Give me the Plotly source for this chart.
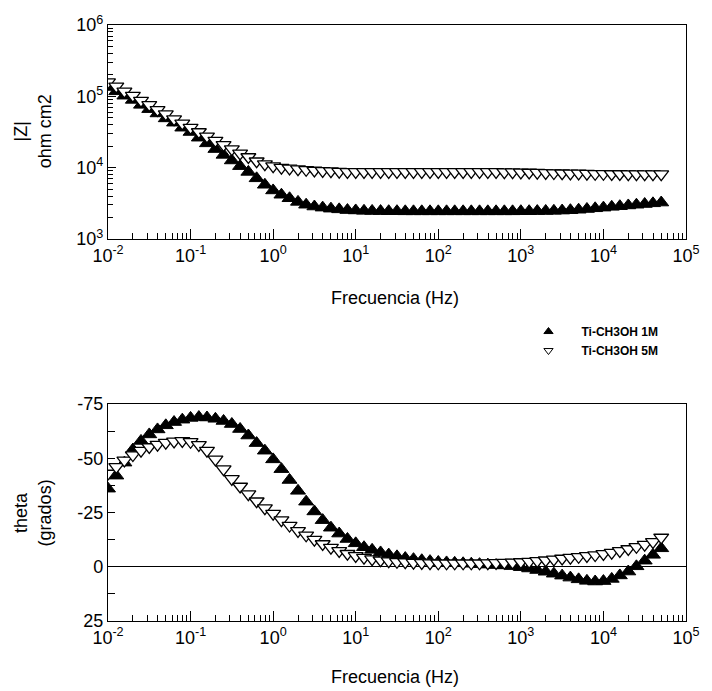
import plotly.graph_objects as go

# Frequencies (Hz)
freq = [0.01, 0.0126, 0.0158, 0.02, 0.0251, 0.0316, 0.0398, 0.0501, 0.0631, 0.0794,
        0.1, 0.126, 0.158, 0.2, 0.251, 0.316, 0.398, 0.501, 0.631, 0.794,
        1, 1.26, 1.58, 2, 2.51, 3.16, 3.98, 5.01, 6.31, 7.94,
        10, 12.6, 15.8, 20, 25.1, 31.6, 39.8, 50.1, 63.1, 79.4,
        100, 126, 158, 200, 251, 316, 398, 501, 631, 794,
        1000, 1260, 1580, 2000, 2510, 3160, 3980, 5010, 6310, 7940,
        10000, 12600, 15800, 20000, 25100, 31600, 39800, 50100]

# |Z| (ohm cm2)
z_1m = [135000, 117500, 102000, 89100, 75900, 66100, 57500, 49000, 42700, 36300,
        31600, 26300, 21900, 18200, 15100, 12600, 10500, 8710, 7080, 5750,
        4790, 4170, 3720, 3310, 3020, 2850, 2750, 2660, 2600, 2540,
        2510, 2480, 2470, 2460, 2450, 2450, 2440, 2440, 2440, 2440,
        2440, 2440, 2440, 2440, 2440, 2440, 2440, 2440, 2440, 2440,
        2450, 2450, 2460, 2470, 2480, 2500, 2530, 2570, 2630, 2690,
        2750, 2820, 2880, 2950, 3020, 3090, 3160, 3240]
z_5m = [158000, 138000, 117500, 102000, 87100, 75900, 64600, 56200, 47900, 41700,
        36300, 31600, 27500, 24000, 20900, 18200, 15800, 14100, 12300, 11200,
        10500, 10000, 9770, 9550, 9330, 9120, 9020, 8910, 8810, 8710,
        8710, 8710, 8700, 8700, 8700, 8700, 8700, 8700, 8700, 8700,
        8700, 8700, 8700, 8700, 8700, 8700, 8700, 8700, 8650, 8650,
        8600, 8550, 8500, 8450, 8400, 8350, 8300, 8300, 8250, 8200,
        8200, 8150, 8150, 8100, 8100, 8100, 8100, 8100]

# theta (grados)
th_1m = [-36, -42, -48, -54, -58, -61, -63.3, -65.2, -66.7, -67.8,
         -68.6, -69, -68.8, -68.2, -67.2, -65.8, -63.5, -60.5, -57, -53.5,
         -49.5, -45, -40, -35, -30, -25.5, -21.5, -18, -15.3, -12.8,
         -10.8, -9.0, -7.8, -6.6, -5.6, -4.8, -4.0, -3.5, -3.0, -2.6,
         -2.2, -2.0, -1.8, -1.6, -1.4, -1.2, -1.0, -0.8, -0.6, -0.3,
         0.2, 0.8, 1.5, 2.3, 3.2, 4.1, 5.0, 5.8, 6.5, 6.8,
         6.6, 5.6, 4.0, 2.2, -0.2, -2.8, -5.5, -8.5]
th_5m = [-43, -46, -49, -51.5, -53.5, -55.2, -56.3, -57.2, -57.8, -58,
         -57.6, -56.2, -53.5, -49.5, -45, -40.5, -37, -33.5, -30.2, -27,
         -24.5, -21.5, -19, -16.5, -14.5, -12.5, -10.5, -8.8, -7.3, -6.0,
         -5.0, -4.2, -3.5, -3.0, -2.6, -2.3, -2.1, -1.9, -1.8, -1.7,
         -1.6, -1.6, -1.6, -1.6, -1.6, -1.6, -1.7, -1.8, -1.9, -2.0,
         -2.2, -2.4, -2.7, -3.0, -3.4, -3.8, -4.2, -4.6, -5.0, -5.4,
         -5.9, -6.5, -7.3, -8.2, -9.2, -10.2, -11.5, -13.5]

names = ["Ti-CH3OH 1M", "Ti-CH3OH 5M"]

x_tickvals = [10.0 ** e for e in range(-2, 6)]
x_ticktext = ["10<sup>%d</sup>" % e for e in range(-2, 6)]
x_minor = [m * 10.0 ** e for e in range(-2, 5) for m in range(2, 10)]
z_tickvals = [10.0 ** e for e in range(3, 7)]
z_ticktext = ["10<sup>%d</sup>" % e for e in range(3, 7)]
z_minor = [m * 10.0 ** e for e in range(3, 6) for m in range(2, 10)]
th_tickvals = [-75, -50, -25, 0, 25]
th_ticktext = ["-75", "-50", "-25", "0", "25"]
th_minor = [-62.5, -37.5, -12.5, 12.5]

FONT = "Liberation Sans, Arial, sans-serif"
MS = 13
filled = dict(symbol="triangle-up", size=MS, color="black", line=dict(color="black", width=1))
opened = dict(symbol="triangle-down", size=MS, color="white", line=dict(color="black", width=1.3))

fig = go.Figure()
fig.add_trace(go.Scatter(x=freq, y=z_1m, mode="markers", marker=filled, name=names[0],
                         xaxis="x", yaxis="y", showlegend=False))
fig.add_trace(go.Scatter(x=freq, y=z_5m, mode="markers", marker=opened, name=names[1],
                         xaxis="x", yaxis="y", showlegend=False))
fig.add_trace(go.Scatter(x=freq, y=th_1m, mode="markers", marker=filled, name=names[0],
                         xaxis="x2", yaxis="y2", showlegend=False))
fig.add_trace(go.Scatter(x=freq, y=th_5m, mode="markers", marker=opened, name=names[1],
                         xaxis="x2", yaxis="y2", showlegend=False))
# legend entries (small symbols as in the reference)
fig.add_trace(go.Scatter(x=[None], y=[None], mode="markers", name=names[0],
                         marker=dict(symbol="triangle-up", size=8, color="black",
                                     line=dict(color="black", width=1)),
                         xaxis="x", yaxis="y"))
fig.add_trace(go.Scatter(x=[None], y=[None], mode="markers", name=names[1],
                         marker=dict(symbol="triangle-down", size=8, color="white",
                                     line=dict(color="black", width=1)),
                         xaxis="x", yaxis="y"))

common_x = dict(type="log", range=[-2, 5], tickvals=x_tickvals, ticktext=x_ticktext,
                ticks="inside", ticklen=10, tickcolor="black", tickwidth=1,
                showline=True, linecolor="black", linewidth=1.3, mirror=True,
                showgrid=False, zeroline=False,
                minor=dict(tickvals=x_minor, ticks="inside", ticklen=6, tickcolor="black",
                           showgrid=False),
                tickfont=dict(family=FONT, size=18, color="black"))

fig.update_layout(
    width=712, height=691,
    margin=dict(l=108, r=17, t=25, b=70),
    paper_bgcolor="white", plot_bgcolor="white",
    xaxis=dict(domain=[0, 1], anchor="y", **common_x),
    xaxis2=dict(domain=[0, 1], anchor="y2", **common_x),
    yaxis=dict(domain=[0.641, 1], anchor="x", type="log", range=[3, 6],
               tickvals=z_tickvals, ticktext=z_ticktext,
               ticks="inside", ticklen=8, tickcolor="black",
               showline=True, linecolor="black", linewidth=1.3, mirror=True,
               showgrid=False, zeroline=False,
               minor=dict(tickvals=z_minor, ticks="inside", ticklen=5, tickcolor="black",
                          showgrid=False),
               tickfont=dict(family=FONT, size=18, color="black")),
    yaxis2=dict(domain=[0, 0.364], anchor="x2", range=[25, -75], autorange=False,
                tickvals=th_tickvals, ticktext=th_ticktext,
                ticks="inside", ticklen=7, tickcolor="black",
                showline=True, linecolor="black", linewidth=1.3, mirror=True,
                showgrid=False, zeroline=True, zerolinecolor="black", zerolinewidth=1.2,
                minor=dict(tickvals=th_minor, ticks="inside", ticklen=7, tickcolor="black",
                           showgrid=False),
                tickfont=dict(family=FONT, size=18, color="black")),
    showlegend=True,
    legend=dict(x=0.705, y=0.51, xanchor="left", yanchor="top",
                bgcolor="rgba(0,0,0,0)", borderwidth=0, itemsizing="trace",
                tracegroupgap=0, itemwidth=56,
                font=dict(family=FONT, size=12, color="black", weight="bold")),
    annotations=[
        dict(text="Frecuencia (Hz)", x=0.497, y=0.542, xref="paper", yref="paper",
             xanchor="center", yanchor="middle",
             showarrow=False, font=dict(family=FONT, size=18, color="black")),
        dict(text="Frecuencia (Hz)", x=0.497, y=-0.094, xref="paper", yref="paper",
             xanchor="center", yanchor="middle",
             showarrow=False, font=dict(family=FONT, size=18, color="black")),
        dict(text="|Z|<br>ohm cm2", x=-0.131, y=0.822, xref="paper", yref="paper",
             xanchor="center", yanchor="middle",
             textangle=-90, showarrow=False,
             font=dict(family=FONT, size=18, color="black")),
        dict(text="theta<br>(grados)", x=-0.131, y=0.181, xref="paper", yref="paper",
             xanchor="center", yanchor="middle",
             textangle=-90, showarrow=False,
             font=dict(family=FONT, size=18, color="black")),
    ],
)

fig.write_html("out.html")
